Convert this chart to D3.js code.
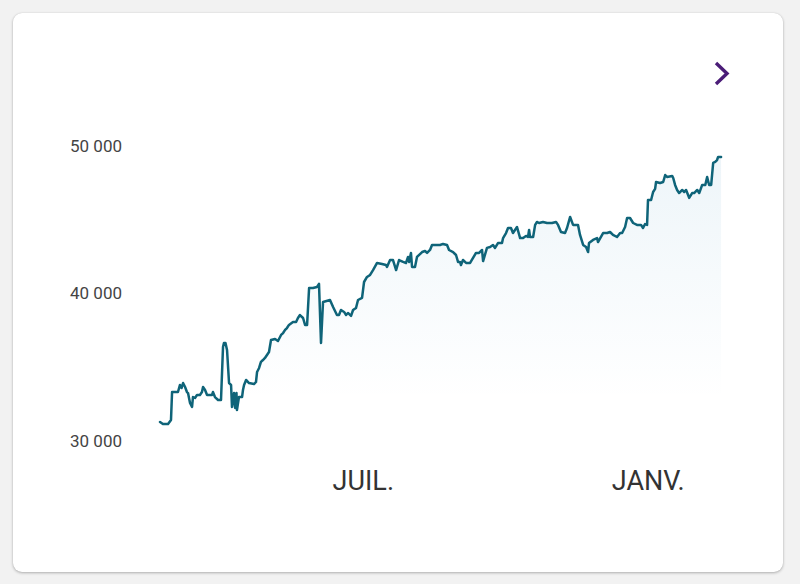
<!DOCTYPE html>
<html>
<head>
<meta charset="utf-8">
<script src="https://cdn.jsdelivr.net/npm/d3@7"></script>
<style>
  html, body { margin: 0; padding: 0; background: #f2f2f2; width: 800px; height: 584px; overflow: hidden; }
  #card { position: absolute; left: 13px; top: 13px; width: 770px; height: 559px; background: #fff; border-radius: 9px;
          box-shadow: 0 1px 3px rgba(0,0,0,0.28), 0 0 1px rgba(0,0,0,0.12); }
  svg { position: absolute; left: 0; top: 0; }
</style>
</head>
<body>
<div id="card"></div>
<svg id="chart" width="800" height="584"></svg>
<script>
// ---- data ----
const startDate = "2022-02-20";
const endDate = "2023-02-18";
const dayOffsets = [0,1.9,5.2,7.1,7.8,11.6,12.9,13.9,14.9,16.2,17.4,18.1,19.4,20.7,21.3,22.6,23.9,25.8,27.1,27.8,29.1,30.4,33.6,34.2,35.5,37.5,39.4,40.7,41.3,42.3,43.3,44.6,45.9,46.5,47.8,48.5,49.4,49.7,51.0,53.0,53.6,54.3,55.6,57.5,60.7,62.0,62.7,64.0,65.2,66.5,67.8,69.1,70.4,71.7,74.3,76.2,78.2,79.5,80.8,82.0,83.3,85.9,87.9,89.1,90.4,92.4,93.7,95.0,96.3,98.8,101.4,102.7,104.0,105.3,109.8,111.8,114.3,115.6,116.9,118.9,120.2,121.4,123.4,124.7,126.6,127.9,130.5,131.8,133.7,135.7,137.6,140.2,143.4,146.0,146.6,148.6,150.5,152.5,154.4,157.0,158.9,160.2,160.9,162.1,162.8,164.7,166.0,169.3,171.2,172.5,174.4,175.7,180.9,182.8,185.4,186.7,189.3,191.2,192.5,193.8,194.4,195.7,197.7,200.3,202.2,204.1,206.1,208.0,208.7,211.2,213.2,215.1,216.4,218.3,220.9,221.6,223.5,224.8,226.7,228.0,230.6,232.6,234.5,236.4,237.7,238.4,239.0,241.0,242.3,243.5,244.8,247.4,250.0,253.2,255.8,257.1,259.0,261.6,262.9,264.9,266.8,270.0,271.3,273.3,275.2,276.5,277.1,279.7,282.3,282.9,286.2,288.8,290.7,292.6,295.2,297.2,298.5,300.4,301.7,303.6,305.6,308.1,310.7,312.0,313.3,314.6,315.2,317.2,318.5,319.8,320.4,323.0,325.0,326.3,327.5,330.8,331.5,332.7,334.0,335.3,337.3,338.6,339.8,341.1,341.8,343.7,345.0,347.0,348.3,350.2,352.2,353.4,354.7,356.0,357.3,358.6,359.8,360.5,362.4];
const values = [31290,31150,31150,31420,33320,33320,33800,33590,33930,33660,33320,33250,32580,32310,32980,32920,33120,33120,33320,33660,33460,33120,33120,33320,32980,32780,32780,36370,36640,36640,36170,33930,33800,32310,33250,32240,33250,32100,32980,32980,33460,33800,34140,33930,33860,34000,34680,34950,35360,35490,35630,35830,36030,36850,36920,36780,37190,37320,37530,37660,37870,38070,38070,38340,38540,38340,37870,37870,40370,40370,40440,40650,36640,39420,39560,39090,38540,38540,38880,38750,38540,38680,38480,38880,39020,39560,39700,40780,41120,41260,41590,42070,42000,41930,41800,42270,42270,41590,42270,42140,42070,42480,42140,42750,41800,41800,42480,42810,42880,42750,42950,43290,43290,43360,43290,42950,42810,42610,42140,42140,41930,42270,42070,42070,42410,42750,42750,42950,42200,43090,43150,43290,43090,43420,43420,43760,44100,44440,44440,44100,44510,43760,43760,43900,43830,44310,43830,43830,44650,44850,44780,44850,44780,44780,44850,44650,44170,44100,44440,45190,44650,44650,43970,43290,43150,42810,43420,43630,43760,43490,44100,44100,44170,43970,43830,44100,44100,44510,45120,45120,44780,44650,44650,44440,44710,44650,46340,46340,46880,47090,47560,47490,47560,48030,47900,47970,47830,47360,47020,46810,47020,46880,47020,46680,46480,46810,46810,47020,46810,47360,47360,47900,47360,47360,48850,48920,49050,49260,49260];
const yTicks = [30000, 40000, 50000];
const yTickLabels = ["30 000", "40 000", "50 000"];
const xTicks = ["2022-07-01", "2023-01-01"];
const xTickLabels = ["JUIL.", "JANV."];

// ---- build ----
const parse = d3.utcParse("%Y-%m-%d");
const t0 = parse(startDate);
const data = dayOffsets.map((d, i) => ({ date: new Date(t0.getTime() + d * 86400000), value: values[i] }));

const svg = d3.select("#chart");
const x = d3.scaleUtc().domain([t0, parse(endDate)]).range([160, 722]);
const y = d3.scaleLinear().domain([30000, 50000]).range([441, 146]);

const defs = svg.append("defs");
const grad = defs.append("linearGradient").attr("id", "fillGrad")
  .attr("gradientUnits", "userSpaceOnUse").attr("x1", 0).attr("x2", 0).attr("y1", 160).attr("y2", 400);
grad.append("stop").attr("offset", 0).attr("stop-color", "#2a86b8").attr("stop-opacity", 0.08);
grad.append("stop").attr("offset", 1).attr("stop-color", "#2a86b8").attr("stop-opacity", 0);

const area = d3.area().x(d => x(d.date)).y0(y(30000)).y1(d => y(d.value));
svg.append("path").datum(data).attr("d", area).attr("fill", "url(#fillGrad)");

const line = d3.line().x(d => x(d.date)).y(d => y(d.value));
svg.append("path").datum(data).attr("d", line)
  .attr("fill", "none").attr("stroke", "#0f6479").attr("stroke-width", 2.5)
  .attr("stroke-linejoin", "round").attr("stroke-linecap", "round");

// y axis labels
const yAxis = d3.axisLeft(y).tickValues(yTicks).tickSize(0).tickPadding(0)
  .tickFormat((d, i) => yTickLabels[i]);
const gy = svg.append("g").attr("transform", "translate(122,0)").call(yAxis);
gy.select(".domain").remove();
gy.selectAll("text").attr("font-family", "Roboto, sans-serif").attr("font-size", 17).attr("fill", "#444");

// x axis labels
const xAxis = d3.axisBottom(x).tickValues(xTicks.map(parse)).tickSize(0).tickPadding(0)
  .tickFormat((d, i) => xTickLabels[i]);
const gx = svg.append("g").attr("transform", "translate(0,471)").call(xAxis);
gx.select(".domain").remove();
gx.selectAll("text").attr("font-family", "Roboto, sans-serif").attr("font-size", 27).attr("fill", "#333").attr("dy", "0.71em");

// chevron
svg.append("path").attr("d", "M716,63 L727,73.5 L716,84")
  .attr("fill", "none").attr("stroke", "#4b1d78").attr("stroke-width", 3.4).attr("stroke-linejoin", "miter");
</script>
</body>
</html>
